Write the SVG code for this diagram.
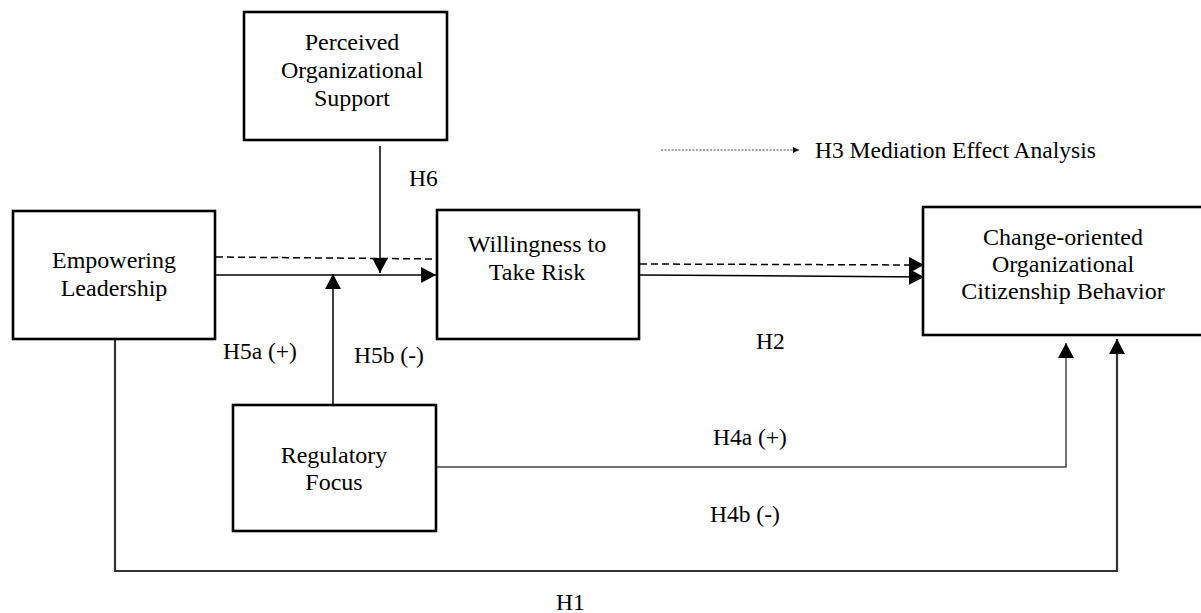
<svg xmlns="http://www.w3.org/2000/svg" width="1201" height="613" viewBox="0 0 1201 613">
<style>
.box{fill:#fff;stroke:#000;stroke-width:2.6}
.t{font-family:"Liberation Serif","Times New Roman",serif;font-size:24px;fill:#000;text-anchor:middle}
.lb{font-family:"Liberation Serif","Times New Roman",serif;font-size:23.5px;fill:#000}
.c{fill:none;stroke:#000;stroke-width:1.5}
.d{fill:none;stroke:#000;stroke-width:1.5;stroke-dasharray:7 4}
.g{fill:none;stroke:#333;stroke-width:2.2}
.g2{fill:none;stroke:#444;stroke-width:1.5}
.leg{fill:none;stroke:#444;stroke-width:1;stroke-dasharray:2 1.5}
</style>
<defs>
<marker id="ah" markerUnits="userSpaceOnUse" markerWidth="16" markerHeight="17" refX="15" refY="8" orient="auto">
<path d="M0,0 L15,8 L0,16 z" fill="#000"/>
</marker>
<marker id="ahs" markerUnits="userSpaceOnUse" markerWidth="7" markerHeight="7" refX="6" refY="3" orient="auto">
<path d="M0,0 L6,3 L0,6 z" fill="#000"/>
</marker>
</defs>

<g id="connectors">
<line class="d" x1="216" y1="257" x2="436" y2="259"/>
<line class="c" x1="215" y1="275" x2="436" y2="275" marker-end="url(#ah)"/>
<line class="c" x1="380" y1="146" x2="380" y2="273" marker-end="url(#ah)"/>
<line class="c" x1="333" y1="405" x2="333" y2="274" marker-end="url(#ah)"/>
<line class="d" x1="640" y1="264" x2="924" y2="265" marker-end="url(#ah)"/>
<line class="c" x1="640" y1="275" x2="924" y2="277" marker-end="url(#ah)"/>
<polyline class="g2" points="436,467 1066,467 1066,343" marker-end="url(#ah)"/>
<polyline class="g" points="115,338 115,571 1117,571 1117,339" marker-end="url(#ah)"/>
<line class="leg" x1="661" y1="150" x2="799" y2="150" marker-end="url(#ahs)"/>
</g>

<g id="node-pos">
<rect class="box" x="244" y="12" width="203" height="128"/>
<text class="t" x="352" y="50">Perceived</text>
<text class="t" x="352" y="78">Organizational</text>
<text class="t" x="352" y="106">Support</text>
</g>

<g id="node-el">
<rect class="box" x="13" y="211" width="202" height="128"/>
<text class="t" x="114" y="268">Empowering</text>
<text class="t" x="114" y="296">Leadership</text>
</g>

<g id="node-wtr">
<rect class="box" x="437" y="210" width="202" height="129"/>
<text class="t" x="537" y="252">Willingness to</text>
<text class="t" x="537" y="280">Take Risk</text>
</g>

<g id="node-cocb">
<rect class="box" x="923" y="207" width="282" height="128"/>
<text class="t" x="1063" y="245">Change-oriented</text>
<text class="t" x="1063" y="272">Organizational</text>
<text class="t" x="1063" y="299">Citizenship Behavior</text>
</g>

<g id="node-rf">
<rect class="box" x="233" y="405" width="203" height="126"/>
<text class="t" x="334" y="463">Regulatory</text>
<text class="t" x="334" y="490">Focus</text>
</g>

<g id="labels">
<text class="lb" x="409" y="186">H6</text>
<text class="lb" x="223" y="359">H5a (+)</text>
<text class="lb" x="354" y="363">H5b (-)</text>
<text class="lb" x="756" y="349">H2</text>
<text class="lb" x="713" y="445">H4a (+)</text>
<text class="lb" x="710" y="522">H4b (-)</text>
<text class="lb" x="556" y="610">H1</text>
<text class="lb" x="815" y="158">H3 Mediation Effect Analysis</text>
</g>
</svg>
